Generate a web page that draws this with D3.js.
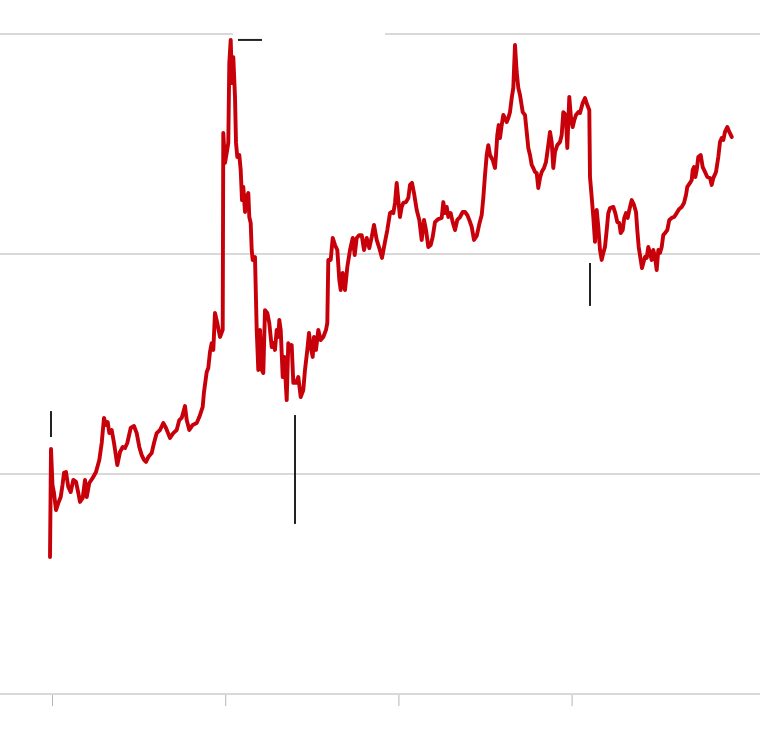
<!DOCTYPE html>
<html>
<head>
<meta charset="utf-8">
<script src="https://cdn.jsdelivr.net/npm/d3@7"></script>
<style>
  html, body { margin: 0; padding: 0; background: #fff; }
  svg { display: block; font-family: "Liberation Sans", Arial, sans-serif; }
</style>
</head>
<body>
<svg id="chart" width="760" height="752"></svg>
<script>
// Time in fractional years (0 = first tick), value in chart units
const times = [
  -0.0115,-0.0058,0.0029,0.0115,0.0231,0.0364,0.0502,0.0606,0.0693,0.0808,
  0.0941,0.108,0.123,0.1386,0.1518,0.1617,0.1773,0.1905,0.2004,0.2154,
  0.235,0.254,0.2731,0.287,0.3002,0.3118,0.3216,0.3308,0.3447,0.358,
  0.377,0.3926,0.4082,0.4215,0.4348,0.4544,0.4734,0.489,0.504,0.5179,
  0.5312,0.5427,0.556,0.5756,0.5889,0.6045,0.6236,0.6426,0.6582,0.6813,
  0.7003,0.72,0.735,0.7488,0.7679,0.7777,0.7927,0.8124,0.8355,0.8505,
  0.8701,0.8776,0.8932,0.9024,0.9122,0.922,0.9313,0.9411,0.9544,0.97,
  0.9856,0.989,0.9988,1.0087,1.0179,1.0237,1.0318,1.0393,1.0468,1.0566,
  1.0624,1.0699,1.0814,1.0895,1.097,1.1045,1.1143,1.1241,1.1334,1.1391,
  1.1472,1.153,1.1588,1.172,1.1819,1.1911,1.2009,1.2107,1.22,1.2298,
  1.2431,1.2546,1.2685,1.2777,1.2875,1.2974,1.3066,1.3124,1.3205,1.332,
  1.3412,1.3551,1.3643,1.3741,1.3839,1.3932,1.4088,1.4221,1.4359,1.4509,
  1.4607,1.474,1.4838,1.4937,1.5052,1.5127,1.5242,1.5375,1.5514,1.5664,
  1.582,1.5895,1.5953,1.6091,1.6207,1.634,1.6473,1.6588,1.6669,1.6784,
  1.6917,1.705,1.7206,1.7362,1.7477,1.7592,1.7742,1.7881,1.8014,1.817,
  1.832,1.8458,1.8591,1.8747,1.8897,1.9053,1.9226,1.9359,1.9515,1.9613,
  1.9706,1.9804,1.9902,1.9994,2.0092,2.0191,2.0283,2.0439,2.0572,2.067,
  2.0785,2.0901,2.1057,2.1207,2.1345,2.1478,2.1594,2.1727,2.1865,2.198,
  2.2113,2.2304,2.25,2.2592,2.269,2.2789,2.2881,2.3019,2.3135,2.3268,
  2.3401,2.3557,2.3713,2.3845,2.3978,2.4094,2.4232,2.4365,2.4521,2.4671,
  2.4809,2.4902,2.5,2.5098,2.519,2.5289,2.5445,2.5577,2.5635,2.571,
  2.5791,2.5866,2.5964,2.6057,2.6155,2.6253,2.6346,2.6443,2.6542,2.6634,
  2.6732,2.683,2.6923,2.7021,2.7177,2.7309,2.7407,2.75,2.7598,2.7696,
  2.7789,2.7887,2.7985,2.8077,2.8176,2.8274,2.8406,2.8522,2.8655,2.8753,
  2.8851,2.8943,2.9042,2.9174,2.933,2.9428,2.9521,2.9659,2.9752,2.9867,
  2.9965,3.0063,3.0156,3.0254,3.0387,3.0485,3.0641,3.0774,3.0907,3.1022,
  3.1062,3.116,3.1253,3.1351,3.1449,3.1542,3.164,3.1738,3.183,3.1928,
  3.2027,3.2119,3.2217,3.2408,3.2523,3.2639,3.2754,3.2835,3.295,3.3042,
  3.314,3.3238,3.3331,3.3469,3.3603,3.3718,3.3793,3.3874,3.399,3.4065,
  3.414,3.4238,3.4336,3.4428,3.4527,3.4625,3.4717,3.4815,3.4913,3.5006,
  3.5104,3.5202,3.5294,3.5393,3.5525,3.5641,3.5779,3.5912,3.6068,3.6218,
  3.6357,3.649,3.6605,3.668,3.6836,3.6934,3.6992,3.7067,3.7142,3.7223,
  3.7315,3.7454,3.7569,3.7702,3.7835,3.799,3.8089,3.8181,3.8337,3.847,
  3.8568,3.8666,3.8759,3.8857,3.899,3.9105,3.9244
];
const values = [
  62.3,111.4,95,91.4,83.6,86.8,89.5,95,100.5,100.9,
  94.1,91.8,97.3,96.4,91.4,87.3,89.1,97.3,89.5,95.9,
  98.2,100.9,106.4,114.1,125.5,122.3,123.6,118.6,120,114.1,
  104.1,110,112.3,111.8,114.1,120.9,121.8,118.6,112.3,108.6,
  106.4,105.5,107.7,109.5,114.1,118.6,120,123.2,120.9,116.4,
  118.6,120,124.5,125.5,130.9,124.5,120,122.3,123.2,125.9,
  130.5,137.3,146.4,148.2,155.5,159.5,156.4,173.2,168.6,162.3,
  165.5,255,241.4,245.9,250.5,286.8,297.3,277.7,289.5,271.4,
  250.5,244.1,245,238.2,224.5,230.5,219.1,225.9,227.7,216.8,
  214.1,201.8,197.3,198.6,165.5,147.3,165.5,147.3,145.9,174.5,
  173.2,168.6,157.7,159.5,156.4,165.5,162.3,170,165.5,144.1,
  153.2,133.6,159.5,156.4,158.6,141.4,141.4,144.1,135,138.2,
  147.3,156.4,164.1,157.7,153.2,162.3,156.4,165.5,160.9,162.3,
  165.5,168.6,197.3,197.3,207.3,204.1,201.8,188.2,183.6,191.4,
  183.6,194.1,201.8,207.3,199.5,207.3,208.6,208.6,201.8,207.3,
  202.7,207.7,213.2,206.4,202.7,198.2,205.5,210.9,218.6,219.1,
  218.6,223.2,232.3,224.5,216.8,221.4,223.2,223.6,225.5,231.4,
  232.3,227.7,220,215.5,206.4,215.5,210.9,203.2,204.1,207.7,
  214.5,215.9,216.4,223.6,218.6,221.4,216.8,218.6,214.5,210.9,
  215.5,216.8,219.1,219.1,217.7,215.5,212.3,206.4,208.2,213.6,
  217.7,225.5,235.9,245,249.5,245,242.7,239.1,245,254.1,
  258.6,252.7,258.6,263.2,261.8,260,261.8,264.5,270.9,275.5,
  295,282.7,275.5,272.3,264.5,263.2,255.5,248.2,245,240.5,
  239.1,237.3,236.8,230,234.5,237.3,239.1,241.8,249.5,255.5,
  250.9,239.1,246.4,249.5,250.9,254.1,264.5,263.2,248.2,271.4,
  261.8,257.7,260.9,263.2,264.5,264.1,268.6,270.9,267.7,265.5,
  235,225.9,216.8,205.5,220,212.3,201.8,197.3,200.5,203.2,
  210.9,218.6,220.9,221.4,218.6,214.5,214.1,209.5,210.9,216.4,
  218.6,216.4,220,224.5,222.3,219.1,210.9,203.2,197.3,193.6,
  195.9,198.6,198.2,203.2,200.5,197.3,201.8,198.6,192.7,201.8,
  200.5,203.2,208.6,209.5,210.9,215.5,216.4,216.8,218.6,220.5,
  221.4,223.2,226.8,230.5,232.3,233.6,238.2,239.5,235,238.2,
  244.1,245,239.5,237.3,235,234.5,231.4,234.5,237.3,244.1,
  250.9,252.7,251.8,255.5,257.7,255.5,253.2
];
const yTicks = [0, 100, 200, 300];
const xTicks = [0, 1, 2, 3];
// annotation connector lines: [t1, v1, t2, v2]
const annotationLines = [
  [-0.0058, 128.6, -0.0058, 116.8],
  [1.4030, 126.8, 1.4030, 77.3],
  [3.1062, 195.9, 3.1062, 176.4],
  [1.0739, 297.3, 1.2125, 297.3]
];

const svg = d3.select("#chart");
const x = d3.scaleLinear().domain([0, 3]).range([52, 571.6]);
const y = d3.scaleLinear().domain([0, 300]).range([694, 34]);

// gridlines
svg.append("g").selectAll("line").data(yTicks).join("line")
  .attr("x1", 0).attr("x2", 760)
  .attr("y1", d => y(d)).attr("y2", d => y(d))
  .attr("stroke", "#d9d9d9").attr("stroke-width", 2);

// label background (white box interrupting top gridline)
svg.append("rect").attr("x", 233).attr("y", 26).attr("width", 152).attr("height", 16).attr("fill", "#fff");

// x axis ticks
const xAxis = d3.axisBottom(x).tickValues(xTicks).tickSize(11).tickFormat("");
const gx = svg.append("g").attr("transform", `translate(0,${y(0) + 1})`).call(xAxis);
gx.select(".domain").remove();
gx.selectAll(".tick line").attr("stroke", "#b5b5b5").attr("stroke-width", 1);

// line
const data = times.map((t, i) => ({t, v: values[i]}));
const line = d3.line().x(d => x(d.t)).y(d => y(d.v));
svg.append("path").datum(data)
  .attr("d", line)
  .attr("fill", "none")
  .attr("stroke", "#c8000a")
  .attr("stroke-width", 3.9)
  .attr("stroke-linejoin", "round")
  .attr("stroke-linecap", "round");

// annotation lines
svg.append("g").selectAll("line").data(annotationLines).join("line")
  .attr("x1", d => x(d[0])).attr("y1", d => y(d[1]))
  .attr("x2", d => x(d[2])).attr("y2", d => y(d[3]))
  .attr("stroke", "#222").attr("stroke-width", 2);
</script>
</body>
</html>
